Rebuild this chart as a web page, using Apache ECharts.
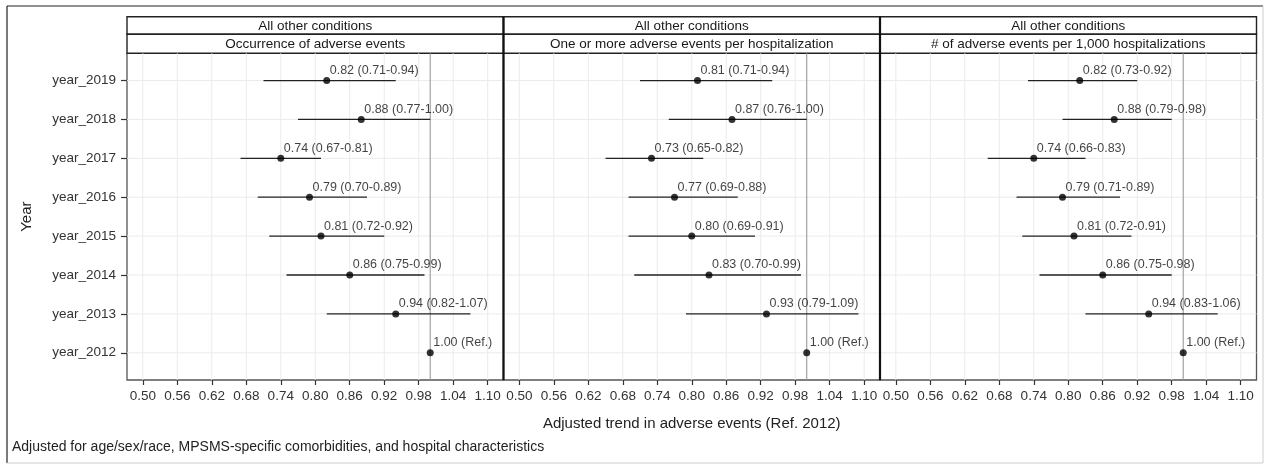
<!DOCTYPE html>
<html>
<head>
<meta charset="utf-8">
<script src="https://cdn.jsdelivr.net/npm/echarts@6/dist/echarts.min.js"></script>
<style>
html,body{margin:0;padding:0;background:#fff;}
#chart{width:1266px;height:464px;}
</style>
</head>
<body>
<div id="chart"></div>
<script>
// ---- data ----
const years = ['year_2012','year_2013','year_2014','year_2015','year_2016','year_2017','year_2018','year_2019'];
const stripTop = 'All other conditions';
const panelTitles = ['Occurrence of adverse events','One or more adverse events per hospitalization','# of adverse events per 1,000 hospitalizations'];
const xTicks = [0.50,0.56,0.62,0.68,0.74,0.80,0.86,0.92,0.98,1.04,1.10];
const refValue = 1.00;

const est1 = [1.00,0.94,0.86,0.81,0.79,0.74,0.88,0.82];
const lo1  = [null,0.82,0.75,0.72,0.70,0.67,0.77,0.71];
const hi1  = [null,1.07,0.99,0.92,0.89,0.81,1.00,0.94];

const est2 = [1.00,0.93,0.83,0.80,0.77,0.73,0.87,0.81];
const lo2  = [null,0.79,0.70,0.69,0.69,0.65,0.76,0.71];
const hi2  = [null,1.09,0.99,0.91,0.88,0.82,1.00,0.94];

const est3 = [1.00,0.94,0.86,0.81,0.79,0.74,0.88,0.82];
const lo3  = [null,0.83,0.75,0.72,0.71,0.66,0.79,0.73];
const hi3  = [null,1.06,0.98,0.91,0.89,0.83,0.98,0.92];

const panels = [[est1,lo1,hi1],[est2,lo2,hi2],[est3,lo3,hi3]];

// ---- layout ----
const FONT = '"Liberation Sans", Arial, sans-serif';
const gridLeft = [127, 503.5, 880];
const gridW = 376.5, gridTop = 53.3, gridH = 326.7;
const yIdx = years.map((_, i) => i + 1);

const grids = [], xAxes = [], yAxes = [], series = [], graphics = [];

// vertical line spanning the whole plot panel at an x value
function vLineSeries(k, values, color, width, z) {
  return {
    type: 'custom', xAxisIndex: k, yAxisIndex: k, z: z, silent: true,
    data: values.map(v => [v]), encode: {x: 0},
    renderItem: (params, api) => {
      const cs = params.coordSys;
      const x = api.coord([api.value(0), 1])[0];
      return {type: 'line', shape: {x1: x, y1: cs.y, x2: x, y2: cs.y + cs.height},
        style: {stroke: color, lineWidth: width}};
    }
  };
}
function hLineSeries(k, values, color, width, z) {
  return {
    type: 'custom', xAxisIndex: k, yAxisIndex: k, z: z, silent: true,
    data: values.map(v => [0.8, v]), encode: {y: 1},
    renderItem: (params, api) => {
      const cs = params.coordSys;
      const y = api.coord([0.8, api.value(1)])[1];
      return {type: 'line', shape: {x1: cs.x, y1: y, x2: cs.x + cs.width, y2: y},
        style: {stroke: color, lineWidth: width}};
    }
  };
}

panels.forEach((p, k) => {
  const [est, lo, hi] = p;
  grids.push({left: gridLeft[k], top: gridTop, width: gridW, height: gridH,
    show: true, backgroundColor: '#fff', borderColor: '#555', borderWidth: 1.3});
  xAxes.push({
    type: 'value', gridIndex: k, min: 0.4725, max: 1.1275,
    axisLine: {show: false},
    splitLine: {show: false},
    axisTick: {show: true, customValues: xTicks, length: 5, lineStyle: {color: '#333', width: 1.2}},
    axisLabel: {show: true, customValues: xTicks, formatter: v => v.toFixed(2),
      color: '#333', fontSize: 13.5, fontFamily: FONT, margin: 9},
    name: k === 1 ? 'Adjusted trend in adverse events (Ref. 2012)' : '',
    nameLocation: 'middle', nameGap: 36,
    nameTextStyle: {color: '#222', fontSize: 15, fontFamily: FONT}
  });
  yAxes.push({
    type: 'value', gridIndex: k, min: 0.3, max: 8.7,
    axisLine: {show: false},
    splitLine: {show: false},
    axisTick: {show: k === 0, customValues: yIdx, length: 6, lineStyle: {color: '#333', width: 1.2}},
    axisLabel: {show: k === 0, customValues: yIdx, formatter: v => years[Math.round(v) - 1] || '',
      color: '#333', fontSize: 13.5, fontFamily: FONT, margin: 11},
    name: k === 0 ? 'Year' : '', nameLocation: 'middle', nameGap: 93, nameRotate: 90,
    nameTextStyle: {color: '#222', fontSize: 15, fontFamily: FONT}
  });
  // gridlines + reference line
  series.push(vLineSeries(k, xTicks, '#ebebeb', 1, 1));
  series.push(hLineSeries(k, yIdx, '#ebebeb', 1, 1));
  series.push(vLineSeries(k, [refValue], '#9a9a9a', 1.1, 2));
  // error bars
  series.push({
    type: 'custom', xAxisIndex: k, yAxisIndex: k, z: 3, silent: true,
    data: yIdx.map((y, i) => lo[i] == null ? null : [lo[i], hi[i], y]).filter(d => d),
    encode: {x: [0, 1], y: 2},
    renderItem: (params, api) => {
      const a = api.coord([api.value(0), api.value(2)]);
      const b = api.coord([api.value(1), api.value(2)]);
      return {type: 'line', shape: {x1: a[0], y1: a[1], x2: b[0], y2: b[1]},
        style: {stroke: '#222', lineWidth: 1.3}};
    }
  });
  // points
  series.push({
    type: 'scatter', xAxisIndex: k, yAxisIndex: k, z: 4, symbolSize: 7,
    itemStyle: {color: '#000'},
    data: yIdx.map((y, i) => [est[i], y,
      lo[i] == null ? est[i].toFixed(2) + ' (Ref.)' : est[i].toFixed(2) + ' (' + lo[i].toFixed(2) + '-' + hi[i].toFixed(2) + ')']),
    label: {show: true, position: 'top', align: 'left', verticalAlign: 'bottom', distance: 0, offset: [3, 0],
      formatter: pr => pr.data[2], color: '#111', fontSize: 12.5, fontFamily: FONT}
  });
  // strips
  const x0 = gridLeft[k];
  graphics.push({type: 'rect', shape: {x: x0, y: 16.7, width: gridW, height: 17.6},
    style: {fill: '#fff', stroke: '#222', lineWidth: 1.4}});
  graphics.push({type: 'rect', shape: {x: x0, y: 34.3, width: gridW, height: 19},
    style: {fill: '#fff', stroke: '#222', lineWidth: 1.4}});
  graphics.push({type: 'text', x: x0 + gridW / 2, y: 26, style: {text: stripTop, fill: '#1a1a1a',
    font: '13.5px ' + FONT, textAlign: 'center', textVerticalAlign: 'middle'}});
  graphics.push({type: 'text', x: x0 + gridW / 2, y: 44, style: {text: panelTitles[k], fill: '#1a1a1a',
    font: '13.5px ' + FONT, textAlign: 'center', textVerticalAlign: 'middle'}});
});

// panel dividers
[503.5, 880].forEach(x => graphics.push({type: 'line', z: 100,
  shape: {x1: x, y1: 16.7, x2: x, y2: gridTop + gridH}, style: {stroke: '#111', lineWidth: 2.2}}));
// outer frame
graphics.push({type: 'line', shape: {x1: 7, y1: 6, x2: 1263, y2: 6}, style: {stroke: '#222', lineWidth: 1.2}});
graphics.push({type: 'line', shape: {x1: 7, y1: 6, x2: 7, y2: 463}, style: {stroke: '#222', lineWidth: 1.2}});
graphics.push({type: 'line', shape: {x1: 1263, y1: 6, x2: 1263, y2: 463}, style: {stroke: '#ccc', lineWidth: 1}});
graphics.push({type: 'line', shape: {x1: 7, y1: 463, x2: 1263, y2: 463}, style: {stroke: '#ccc', lineWidth: 1}});
// caption
graphics.push({type: 'text', x: 12, y: 447, style: {
  text: 'Adjusted for age/sex/race, MPSMS-specific comorbidities, and hospital characteristics',
  fill: '#222', font: '14px ' + FONT, textAlign: 'left', textVerticalAlign: 'middle'}});

const chart = echarts.init(document.getElementById('chart'), null, {renderer: 'canvas'});
chart.setOption({
  animation: false,
  backgroundColor: '#fff',
  grid: grids, xAxis: xAxes, yAxis: yAxes, series: series,
  graphic: {elements: graphics}
});
</script>
</body>
</html>
